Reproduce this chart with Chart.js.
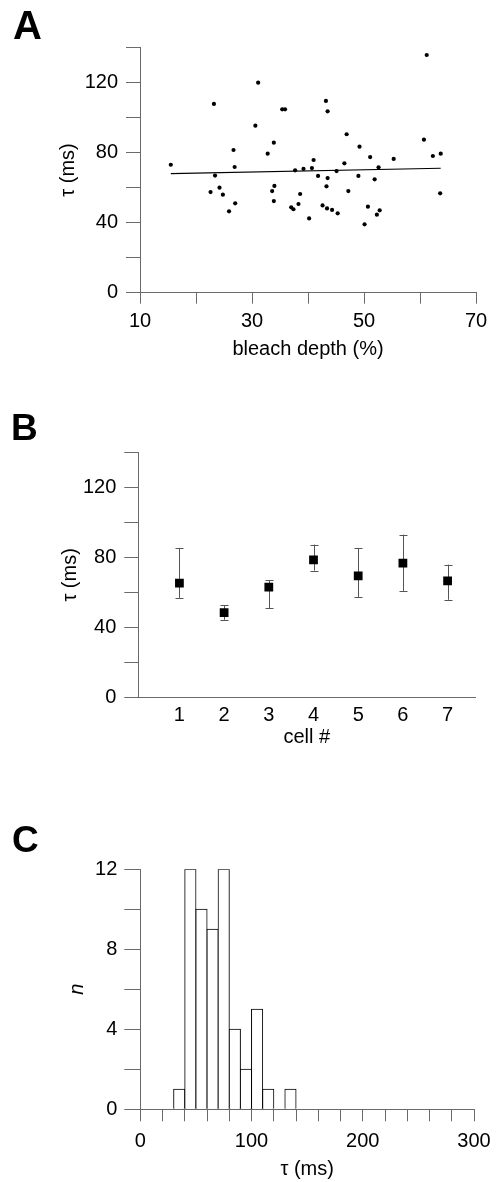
<!DOCTYPE html>
<html><head><meta charset="utf-8">
<script src="https://cdn.jsdelivr.net/npm/chart.js@4"></script>
<style>
html,body{margin:0;padding:0;background:#fff;width:497px;height:1182px;overflow:hidden;position:relative}
canvas{position:absolute;left:0}
.lbl{position:absolute;font-family:"Liberation Sans",Arial,sans-serif;font-weight:bold;line-height:1;color:#000}
</style></head><body>
<canvas id="ca" width="497" height="390" style="top:0"></canvas>
<canvas id="cb" width="497" height="390" style="top:390px"></canvas>
<canvas id="cc" width="497" height="402" style="top:780px"></canvas>
<div class="lbl" style="left:13px;top:5px;font-size:40px">A</div>
<div class="lbl" style="left:11px;top:409px;font-size:37px">B</div>
<div class="lbl" style="left:12px;top:821px;font-size:37px">C</div>
<script>
// ---------- Panel A data ----------
const depthA = [15.5,23.2,23.4,22.6,24.2,24.8,25.9,27.0,26.7,26.9,31.1,30.6,32.8,33.9,33.6,34.0,33.9,35.4,35.9,37.0,37.4,37.7,38.3,38.6,39.2,40.2,40.7,41.0,41.8,42.6,43.2,43.5,43.3,43.5,43.4,44.3,45.1,45.3,46.5,46.9,47.2,49.0,49.2,50.1,50.7,51.1,51.9,52.3,52.8,52.6,55.3,60.7,61.2,62.3,63.7,63.6];
const tauA = [73.0,107.7,66.8,57.4,59.9,55.9,46.4,51.0,81.4,71.7,119.8,95.3,79.3,85.6,58.0,60.9,52.3,104.6,104.6,48.7,47.6,69.8,50.6,56.3,70.6,42.4,71.1,75.7,66.6,49.8,109.4,103.5,60.7,65.4,48.1,47.2,69.4,45.3,73.8,90.4,58.0,66.6,83.3,39.0,49.1,77.4,64.7,44.5,47.0,71.5,76.3,87.3,135.6,78.0,79.3,56.7];
const fitX = [15.5, 63.7];
const fitY = [67.9, 71.0];
const aXTicks = [10,20,30,40,50,60,70];
const aXLabels = [10,30,50,70];
const aYTicks = [0,20,40,60,80,100,120,140];
const aYLabels = [0,40,80,120];

// ---------- Panel B data ----------
const cells = [1,2,3,4,5,6,7];
const tauMean = [65.3,48.4,63.0,78.6,69.4,76.7,66.6];
const tauHi = [85.2,52.8,67.0,87.3,85.2,93.0,75.9];
const tauLo = [56.9,44.4,51.0,72.5,57.3,60.9,55.8];
const bYTicks = [0,20,40,60,80,100,120,140];
const bYLabels = [0,40,80,120];

// ---------- Panel C data ----------
const binCenters = [35,45,55,65,75,85,95,105,115,125,135];
const binCounts = [1,12,10,9,12,4,2,5,1,null,1];
const cXTicks = [0,20,40,60,80,100,120,140,160,180,200,220,240,260,280,300];
const cXLabels = [0,100,200,300];
const cYTicks = [0,2,4,6,8,10,12];
const cYLabels = [0,4,8,12];

const FONT = '"Liberation Sans", Arial, sans-serif';
Chart.defaults.font.family = FONT;
Chart.defaults.font.size = 20;
Chart.defaults.color = '#000';
const AX = '#6a6a6a';

function setTicks(arr){ return s => { s.ticks = arr.map(v => ({value: v})); }; }
function lab(arr){ return v => (arr.includes(v) ? String(v) : ''); }
function fixY(w){ return s => { s.width = w; s.paddingTop = 0; s.paddingBottom = 0; }; }
function fixX(h){ return s => { s.height = h; s.paddingLeft = 0; s.paddingRight = 0; }; }

const common = {
  responsive: false, animation: false, devicePixelRatio: 1,
  plugins: { legend: {display:false}, tooltip: {enabled:false} }
};

// ---------- Chart A ----------
new Chart(document.getElementById('ca'), {
  type: 'scatter',
  data: { datasets: [
    { data: depthA.map((x,i)=>({x, y: tauA[i]})), pointRadius: 2.1, pointBackgroundColor:'#000', pointBorderWidth:0 },
    { type:'line', data: fitX.map((x,i)=>({x, y: fitY[i]})), borderColor:'#000', borderWidth:1.2, pointRadius:0, fill:false }
  ]},
  options: Object.assign({}, common, {
    layout: { padding: { left:0, top:47.3, right:21, bottom:27.3 } },
    scales: {
      x: { type:'linear', min:10, max:70,
        afterBuildTicks: setTicks(aXTicks), afterFit: fixX(70),
        ticks: { autoSkip:false, maxRotation:0, padding:6, callback: lab(aXLabels) },
        grid: { drawOnChartArea:false, tickLength:11, color:AX },
        border: { color:AX, width:1 },
        title: { display:true, text:'bleach depth (%)', padding:{top:0,bottom:1} } },
      y: { type:'linear', min:0, max:140,
        afterBuildTicks: setTicks(aYTicks), afterFit: fixY(140),
        ticks: { autoSkip:false, padding:8, callback: lab(aYLabels) },
        grid: { drawOnChartArea:false, tickLength:14, color:AX },
        border: { color:AX, width:1 },
        title: { display:true, text:'τ (ms)', padding:{top:56,bottom:0} } }
    }
  })
});

// ---------- Chart B ----------
const errorBars = {
  id: 'errorBars',
  beforeDatasetsDraw(chart) {
    const {ctx, scales:{x, y}} = chart;
    ctx.save();
    ctx.strokeStyle = '#555';
    ctx.lineWidth = 1;
    cells.forEach((c, i) => {
      const px = Math.round(x.getPixelForValue(c)) + 0.5;
      const pt = y.getPixelForValue(tauHi[i]);
      const pb = y.getPixelForValue(tauLo[i]);
      ctx.beginPath();
      ctx.moveTo(px, pt); ctx.lineTo(px, pb);
      ctx.moveTo(px - 4, Math.round(pt)+0.5); ctx.lineTo(px + 4, Math.round(pt)+0.5);
      ctx.moveTo(px - 4, Math.round(pb)+0.5); ctx.lineTo(px + 4, Math.round(pb)+0.5);
      ctx.stroke();
    });
    ctx.restore();
  }
};
new Chart(document.getElementById('cb'), {
  type: 'scatter',
  data: { datasets: [
    { data: cells.map((c,i)=>({x:c, y: tauMean[i]})), pointStyle:'rect', pointRadius:6.2, pointBackgroundColor:'#000', pointBorderWidth:0 }
  ]},
  plugins: [errorBars],
  options: Object.assign({}, common, {
    layout: { padding: { left:0, top:62.3, right:21.7, bottom:27.5 } },
    scales: {
      x: { type:'linear', min:0.08, max:7.62,
        afterBuildTicks: setTicks(cells), afterFit: fixX(55),
        ticks: { autoSkip:false, maxRotation:0, padding:6 },
        grid: { display:false, drawTicks:false },
        border: { color:AX, width:1 },
        title: { display:true, text:'cell #', padding:{top:0,bottom:3.5} } },
      y: { type:'linear', min:0, max:140,
        afterBuildTicks: setTicks(bYTicks), afterFit: fixY(138.3),
        ticks: { autoSkip:false, padding:8, callback: lab(bYLabels) },
        grid: { drawOnChartArea:false, tickLength:14, color:AX },
        border: { color:AX, width:1 },
        title: { display:true, text:'τ (ms)', padding:{top:58,bottom:0} } }
    }
  })
});

// ---------- Chart C ----------
new Chart(document.getElementById('cc'), {
  type: 'bar',
  data: { datasets: [
    { data: binCenters.map((x,i)=>({x, y: binCounts[i]})), backgroundColor:'#fff', borderColor:'#000', borderWidth:1,
      barPercentage:1, categoryPercentage:1, inflateAmount:0.5, borderSkipped:'bottom' }
  ]},
  options: Object.assign({}, common, {
    layout: { padding: { left:0, top:89.3, right:23, bottom:0.7 } },
    scales: {
      x: { type:'linear', min:0, max:300, offset:false,
        afterBuildTicks: setTicks(cXTicks), afterFit: fixX(72),
        ticks: { autoSkip:false, maxRotation:0, padding:8.4, callback: lab(cXLabels) },
        grid: { drawOnChartArea:false, offset:false, tickLength:12, color:AX },
        border: { color:AX, width:1 },
        title: { display:true, text:'τ (ms)', padding:{top:0,bottom:0} } },
      y: { type:'linear', min:0, max:12,
        afterBuildTicks: setTicks(cYTicks), afterFit: fixY(140.3),
        ticks: { autoSkip:false, padding:7, callback: lab(cYLabels) },
        grid: { drawOnChartArea:false, tickLength:16, color:AX },
        border: { color:AX, width:1 },
        title: { display:true, text:'n', font:{style:'italic', size:20}, padding:{top:65,bottom:0} } }
    }
  })
});
</script>
</body></html>
